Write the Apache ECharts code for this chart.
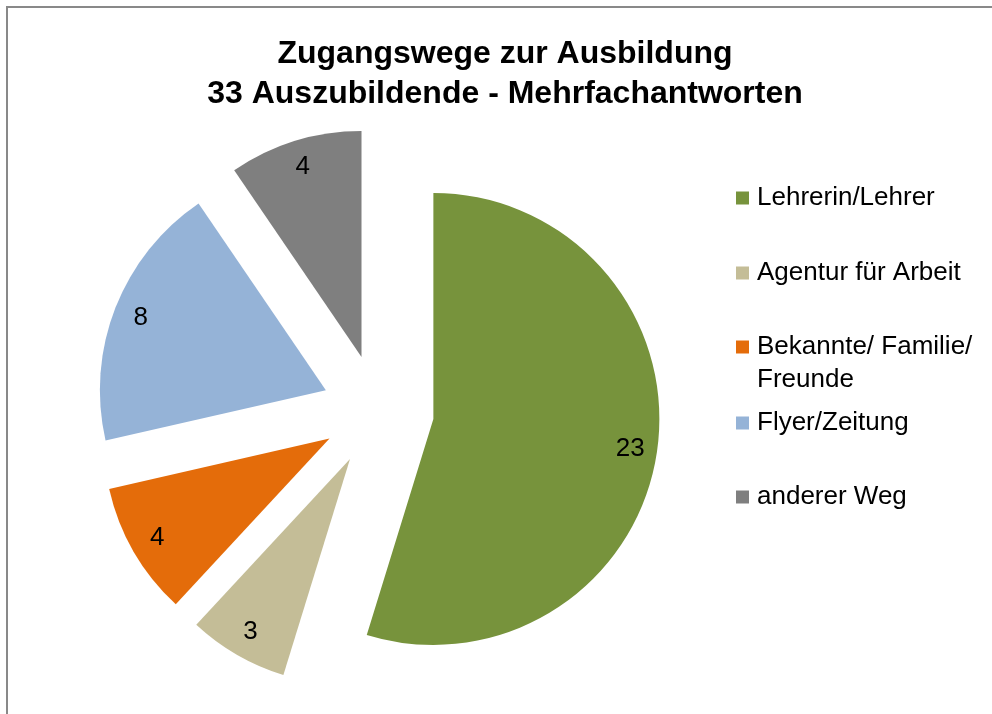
<!DOCTYPE html>
<html>
<head>
<meta charset="utf-8">
<script src="https://cdn.jsdelivr.net/npm/echarts@6/dist/echarts.min.js"></script>
<style>
  html, body { margin: 0; padding: 0; background: #fff; }
  #chart { width: 992px; height: 714px; }
</style>
</head>
<body>
<div id="chart"></div>
<script>
const titleLines = ['Zugangswege zur Ausbildung', '33 Auszubildende - Mehrfachantworten']
const names = ['Lehrerin/Lehrer', 'Agentur für Arbeit', 'Bekannte/ Familie/ Freunde', 'Flyer/Zeitung', 'anderer Weg']
const values = [23, 3, 4, 8, 4]
const colors = ['#77933C', '#C4BD97', '#E46C0A', '#95B3D7', '#7F7F7F']

// layout (not data)
const legendCenters = [198, 273, 347, 423, 497]
const lineH = 33
const font = '"Liberation Sans", Arial, sans-serif'

const chart = echarts.init(document.getElementById('chart'))

const pieData = names.map((n, i) => ({
  name: n,
  value: values[i],
  selected: true,
  itemStyle: { color: colors[i] }
}))

// one legend per entry so the wrapped entry keeps its icon on the first line
const legends = names.map((n, i) => {
  const twoLines = n.length > 22
  return {
    data: [n],
    orient: 'vertical',
    left: 736,
    top: legendCenters[i] - (twoLines ? lineH * 1.5 : lineH / 2),
    padding: 0,
    itemWidth: 13,
    itemHeight: 13,
    icon: 'rect',
    selectedMode: false,
    // a leading empty line puts the first text line level with the icon
    formatter: twoLines ? '\n{name}' : '{name}',
    textStyle: {
      fontFamily: font,
      fontSize: 26,
      color: '#000',
      lineHeight: lineH,
      width: 232,
      overflow: 'break',
      padding: [0, 0, 0, 3]
    }
  }
})

chart.setOption({
  animation: false,
  backgroundColor: '#fff',
  title: {
    text: titleLines.join('\n'),
    left: 505,
    top: 34,
    padding: 0,
    textAlign: 'center',
    textStyle: {
      fontFamily: font,
      fontSize: 32,
      fontWeight: 'bold',
      color: '#000',
      lineHeight: 40
    }
  },
  legend: legends,
  graphic: [{
    type: 'rect',
    shape: { x: 7, y: 7, width: 1100, height: 900 },
    style: { fill: 'none', stroke: '#898989', lineWidth: 2 },
    silent: true
  }],
  series: [{
    type: 'pie',
    center: [378, 410.6],
    radius: [0, 226],
    startAngle: 90,
    clockwise: true,
    selectedMode: 'multiple',
    selectedOffset: 56,
    silent: true,
    label: { show: false },
    labelLine: { show: false },
    itemStyle: { borderWidth: 0 },
    select: { itemStyle: { borderWidth: 0 } },
    data: pieData
  }, {
    // transparent ring only to carry the value labels at the right radius
    type: 'pie',
    center: [378, 410.6],
    radius: [166, 226],
    startAngle: 90,
    clockwise: true,
    selectedMode: 'multiple',
    selectedOffset: 56,
    silent: true,
    itemStyle: { color: 'transparent', borderWidth: 0 },
    select: { itemStyle: { color: 'transparent', borderWidth: 0 } },
    label: {
      show: true,
      position: 'inside',
      formatter: '{c}',
      fontFamily: font,
      fontSize: 26,
      color: '#000'
    },
    labelLine: { show: false },
    data: names.map((n, i) => ({ name: n, value: values[i], selected: true }))
  }]
})
</script>
</body>
</html>
